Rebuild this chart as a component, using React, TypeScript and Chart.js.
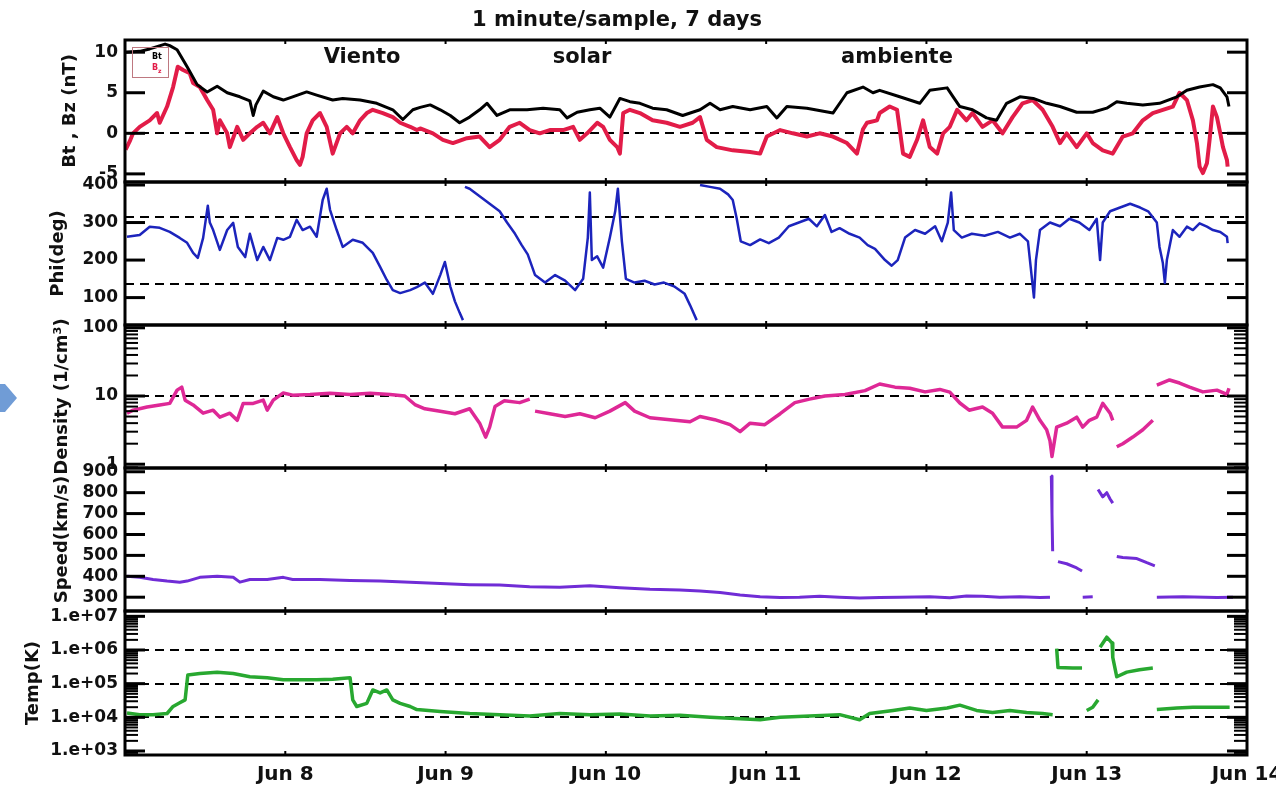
import React, { useEffect, useRef } from 'react';
import { Chart, registerables } from 'chart.js';

Chart.register(...registerables);

type Pair = [number, number | null];

// ---------- labels ----------
const chartTitle = '1 minute/sample, 7 days';
const regionWords = ['Viento', 'solar', 'ambiente'];
const dayLabels = ['', 'Jun 8', 'Jun 9', 'Jun 10', 'Jun 11', 'Jun 12', 'Jun 13', 'Jun 14'];

// ---------- axis ticks / reference levels ----------
const bFieldTicks = [-5, 0, 5, 10];
const phiTicks = [100, 200, 300, 400];
const densityTicks = [1, 10, 100];
const speedTicks = [300, 400, 500, 600, 700, 800, 900];
const tempTicks = [1e3, 1e4, 1e5, 1e6, 1e7];
const tempTickLabels = ['1.e+03', '1.e+04', '1.e+05', '1.e+06', '1.e+07'];

const bFieldRefLines = [0];
const phiRefLines = [135, 315];
const densityRefLines = [10];
const tempRefLines = [1e4, 1e5, 1e6];

// ---------- series: [hours since Jun 7 00:00, value] ----------
const btSeries: Pair[] = [
  [0.1, 10.0], [2.2, 10.1], [3.7, 10.4], [6.0, 11.0], [6.7, 10.8], [7.8, 10.3], [9.3, 8.2], [10.8, 6.0],
  [12.3, 5.1], [13.8, 5.8], [15.3, 5.0], [17.2, 4.5], [18.7, 4.0], [19.2, 2.2], [19.6, 3.5], [20.7, 5.2],
  [22.2, 4.5], [23.7, 4.1], [25.1, 4.5], [27.2, 5.1], [28.7, 4.7], [31.1, 4.1], [32.6, 4.3], [35.2, 4.1],
  [37.7, 3.7], [40.1, 2.9], [41.6, 1.7], [43.1, 2.9], [44.2, 3.2], [45.7, 3.5], [47.2, 2.9], [48.7, 2.2],
  [50.1, 1.3], [51.6, 2.0], [53.1, 2.9], [54.2, 3.7], [55.7, 2.2], [57.6, 2.9], [60.2, 2.9], [62.6, 3.1],
  [65.1, 2.9], [66.2, 1.9], [67.7, 2.6], [69.6, 2.9], [71.1, 3.1], [72.6, 2.0], [74.1, 4.3], [75.6, 3.9],
  [77.1, 3.7], [79.0, 3.1], [81.1, 2.9], [83.5, 2.2], [86.1, 2.9], [87.6, 3.7], [89.1, 2.9], [91.0, 3.3],
  [93.6, 2.9], [96.1, 3.3], [97.6, 1.9], [99.1, 3.3], [102.1, 3.1], [106.0, 2.5], [108.1, 5.0], [110.5, 5.7],
  [112.0, 5.0], [113.0, 5.3], [116.0, 4.5], [119.0, 3.7], [120.5, 5.3], [123.1, 5.6], [124.0, 4.5], [125.0, 3.3],
  [126.9, 2.9], [129.0, 1.9], [130.5, 1.6], [132.0, 3.7], [134.0, 4.5], [136.0, 4.3], [138.0, 3.7], [140.0, 3.3],
  [142.5, 2.6], [144.9, 2.6], [147.0, 3.1], [148.5, 3.9], [150.0, 3.7], [152.4, 3.5], [154.9, 3.7], [157.5, 4.5],
  [159.0, 5.3], [160.9, 5.7], [162.9, 6.0], [164.0, 5.6], [165.0, 4.5], [165.3, 3.3],
];

const bzSeries: Pair[] = [
  [0.1, -2.0], [0.7, -1.0], [1.2, 0.0], [2.2, 0.8], [3.7, 1.6], [4.8, 2.5], [5.2, 1.3], [6.3, 3.3],
  [7.2, 5.7], [7.9, 8.2], [8.7, 7.8], [9.7, 7.4], [10.2, 6.2], [11.2, 5.7], [12.3, 4.1], [13.2, 2.9],
  [13.8, 0.0], [14.2, 1.6], [15.3, 0.0], [15.7, -1.7], [16.8, 0.8], [17.7, -0.8], [18.7, 0.0], [19.8, 0.8],
  [20.7, 1.3], [21.7, 0.0], [22.8, 2.0], [23.7, 0.0], [24.7, -1.7], [25.7, -3.3], [26.2, -3.9], [26.6, -2.9],
  [27.2, 0.0], [28.1, 1.6], [29.2, 2.5], [30.2, 0.8], [31.1, -2.5], [32.2, 0.0], [33.2, 0.8], [34.1, 0.0],
  [35.2, 1.6], [36.2, 2.5], [37.1, 2.9], [38.6, 2.5], [40.1, 2.0], [41.2, 1.3], [42.7, 0.8], [43.7, 0.4],
  [44.2, 0.6], [46.1, 0.0], [47.6, -0.8], [49.1, -1.2], [51.2, -0.6], [53.1, -0.4], [54.6, -1.7], [56.1, -0.8],
  [57.6, 0.8], [59.1, 1.3], [60.6, 0.4], [62.1, 0.0], [63.6, 0.4], [65.6, 0.4], [67.1, 0.8], [68.1, -0.8],
  [69.2, 0.0], [70.7, 1.3], [71.6, 0.8], [72.6, -0.8], [73.7, -1.7], [74.1, -2.5], [74.6, 2.5], [75.6, 2.9],
  [77.1, 2.5], [79.0, 1.6], [81.1, 1.3], [83.1, 0.8], [85.0, 1.3], [86.1, 2.0], [87.1, -0.8], [88.6, -1.7],
  [91.0, -2.1], [93.6, -2.3], [95.1, -2.5], [96.1, -0.4], [98.1, 0.4], [100.0, 0.0], [102.1, -0.4], [104.0, 0.0],
  [106.0, -0.4], [108.1, -1.2], [109.6, -2.5], [110.5, 0.5], [111.1, 1.3], [112.6, 1.6], [113.0, 2.5], [114.5, 3.3],
  [115.6, 2.9], [116.5, -2.5], [117.5, -2.9], [118.6, -0.8], [119.5, 1.6], [120.5, -1.7], [121.6, -2.5], [122.5, 0.0],
  [123.5, 0.8], [124.6, 2.9], [126.0, 1.6], [126.9, 2.5], [128.4, 0.8], [129.9, 1.6], [131.4, 0.0], [132.9, 2.0],
  [134.4, 3.7], [135.9, 4.1], [137.4, 2.9], [138.9, 0.8], [140.0, -1.2], [141.0, 0.0], [142.5, -1.7], [144.0, 0.0],
  [144.9, -1.2], [146.4, -2.1], [147.9, -2.5], [149.4, -0.4], [150.9, 0.0], [152.4, 1.6], [153.9, 2.5], [155.4, 2.9],
  [156.9, 3.3], [157.9, 5.0], [159.0, 4.1], [159.9, 1.6], [160.5, -1.2], [160.9, -4.1], [161.4, -4.9], [162.0, -3.7],
  [162.4, -0.8], [162.9, 3.3], [163.5, 2.0], [164.0, 0.0], [164.4, -1.7], [165.0, -3.3], [165.1, -4.1],
];

const phiSeries: Pair[] = [
  [0.3, 262], [2.2, 267], [3.7, 289], [5.2, 286], [6.7, 275], [8.2, 259], [9.3, 246], [10.2, 219],
  [10.9, 206], [11.7, 259], [12.4, 345], [12.7, 300], [13.2, 280], [14.2, 227], [15.3, 280], [16.2, 299],
  [16.9, 235], [18.0, 208], [18.7, 270], [19.8, 200], [20.7, 235], [21.7, 200], [22.8, 259], [23.7, 254],
  [24.7, 262], [25.7, 307], [26.6, 280], [27.7, 289], [28.7, 262], [29.6, 360], [30.2, 390], [30.7, 334],
  [31.7, 280], [32.6, 235], [34.1, 254], [35.6, 246], [37.1, 219], [38.2, 182], [39.2, 147], [40.1, 120],
  [41.2, 112], [42.7, 120], [43.7, 128], [44.9, 140], [46.1, 110], [47.2, 160], [47.9, 195], [48.7, 130],
  [49.4, 90], [50.1, 60], [50.6, 40], [50.7, null], [50.9, 395], [51.6, 390], [53.1, 370], [54.6, 350],
  [56.1, 330], [57.2, 300], [58.4, 270], [59.4, 240], [60.3, 215], [61.4, 160], [62.9, 140], [64.4, 160],
  [65.9, 145], [67.4, 120], [68.6, 150], [69.3, 260], [69.6, 380], [69.9, 200], [70.7, 210], [71.6, 180],
  [72.6, 260], [73.4, 330], [73.8, 390], [74.4, 250], [75.0, 150], [76.3, 140], [77.8, 145], [79.3, 135],
  [80.7, 140], [82.2, 130], [83.8, 110], [84.6, 80], [85.6, 40], [85.8, null], [86.1, 400], [87.6, 395],
  [89.1, 390], [90.3, 375], [91.0, 360], [91.6, 310], [92.2, 250], [93.6, 240], [95.1, 255], [96.4, 245],
  [97.9, 260], [99.4, 290], [100.9, 300], [102.4, 310], [103.6, 290], [104.8, 320], [105.8, 275], [107.0, 285],
  [108.5, 270], [110.0, 260], [111.2, 240], [112.3, 230], [113.8, 200], [114.8, 185], [115.7, 200], [116.8, 260],
  [118.3, 280], [119.8, 270], [121.3, 290], [122.3, 250], [123.2, 300], [123.7, 380], [124.1, 280], [125.3, 260],
  [126.8, 270], [128.7, 265], [130.7, 275], [132.5, 260], [134.0, 270], [135.2, 250], [135.8, 150], [136.1, 100],
  [136.4, 200], [137.0, 280], [138.5, 300], [140.0, 290], [141.4, 310], [142.9, 300], [144.4, 280], [145.5, 310],
  [146.0, 200], [146.4, 300], [147.5, 330], [149.0, 340], [150.5, 350], [152.0, 340], [153.2, 330], [154.5, 300],
  [154.9, 235], [155.4, 192], [155.7, 139], [156.0, 200], [156.9, 280], [157.9, 262], [159.0, 289], [159.9, 280],
  [160.9, 298], [162.0, 289], [162.9, 280], [164.0, 275], [165.0, 262], [165.1, 245],
];

const densitySeries: Pair[] = [
  [0.3, 5.6], [1.2, 6.2], [3.3, 6.9], [5.2, 7.4], [6.7, 7.8], [7.8, 12.2], [8.5, 13.5], [9.0, 8.7],
  [10.2, 7.4], [11.7, 5.6], [13.2, 6.2], [14.2, 4.9], [15.7, 5.6], [16.8, 4.4], [17.7, 7.8], [19.2, 7.8],
  [20.7, 8.7], [21.3, 6.2], [22.2, 8.7], [23.7, 11.1], [25.1, 10.3], [27.7, 10.5], [30.7, 11], [33.7, 10.5],
  [36.7, 11], [39.7, 10.5], [41.9, 10], [43.4, 7.5], [44.9, 6.5], [47.2, 6], [49.4, 5.5], [51.6, 6.5],
  [53.1, 4], [54.0, 2.5], [54.6, 3.5], [55.4, 7], [56.8, 8.5], [59.1, 8], [60.6, 9], [61.0, null],
  [61.4, 6], [63.6, 5.5], [65.9, 5], [68.1, 5.5], [70.4, 4.8], [72.6, 6], [74.9, 8], [76.3, 6],
  [78.6, 4.8], [81.6, 4.5], [84.6, 4.2], [86.1, 5], [88.3, 4.5], [90.6, 3.8], [92.1, 3], [93.6, 4],
  [95.8, 3.8], [98.1, 5.5], [100.3, 8], [102.5, 9], [104.8, 10], [107.8, 10.5], [110.8, 12], [113.0, 15],
  [115.3, 13.5], [117.5, 13], [119.8, 11.5], [122.0, 12.5], [123.5, 11.4], [125.0, 7.9], [126.4, 6.2], [128.4, 6.9],
  [129.9, 5.6], [131.4, 3.5], [133.5, 3.5], [135.0, 4.4], [135.9, 6.9], [137.0, 4.4], [138.0, 3.2], [138.5, 2.2],
  [138.8, 1.3], [139.5, 3.5], [141.0, 4.0], [142.5, 4.9], [143.4, 3.5], [144.4, 4.4], [145.5, 4.9], [146.4, 7.8],
  [147.5, 5.6], [147.9, 4.4], [148.2, null], [148.5, 1.8], [149.4, 2.0], [150.9, 2.5], [152.4, 3.2], [153.9, 4.4],
  [154.2, null], [154.5, 14.5], [156.4, 17.2], [157.9, 15.5], [159.4, 13.5], [161.4, 11.5], [163.5, 12.2], [165.0, 10.6],
  [165.3, 13],
];

const speedSeries: Pair[] = [
  [0.3, 400], [2.2, 395], [4.2, 385], [6.3, 377], [8.2, 372], [9.3, 377], [11.2, 395], [13.8, 400],
  [16.2, 395], [17.2, 372], [18.7, 385], [21.3, 385], [23.7, 395], [25.1, 385], [29.2, 385], [33.7, 380],
  [38.2, 378], [42.7, 372], [47.2, 365], [51.6, 360], [56.1, 358], [60.6, 350], [65.1, 348], [69.6, 355],
  [74.1, 345], [78.6, 338], [83.1, 335], [86.1, 330], [89.1, 322], [92.1, 310], [95.1, 302], [98.1, 298],
  [101.0, 300], [104.0, 305], [107.0, 300], [110.0, 296], [113.0, 298], [116.0, 300], [120.5, 302], [123.5, 297],
  [126.0, 306], [128.4, 305], [131.0, 300], [134.0, 302], [137.0, 298], [138.5, 300], [138.6, null], [138.7, 880],
  [138.8, 700], [138.9, 520], [139.0, null], [139.7, 470], [141.0, 460], [142.5, 440], [143.3, 425], [143.35, null],
  [143.4, 300], [144.9, 302], [145.2, null], [145.7, 815], [146.4, 780], [147.0, 800], [147.5, 770], [147.9, 750],
  [148.2, null], [148.5, 495], [149.4, 490], [151.5, 485], [153.0, 465], [154.2, 450], [154.3, null], [154.5, 300],
  [158.4, 302], [163.5, 298], [165.9, 300],
];

const tempSeries: Pair[] = [
  [0.3, 1.35e4], [2.2, 1.2e4], [4.2, 1.2e4], [6.3, 1.3e4], [7.2, 2.1e4], [8.2, 2.7e4], [9.0, 3.3e4], [9.4, 1.8e5],
  [11.2, 2.0e5], [13.8, 2.2e5], [16.2, 2.0e5], [18.7, 1.6e5], [21.3, 1.5e5], [23.7, 1.3e5], [26.2, 1.3e5], [28.7, 1.3e5],
  [31.1, 1.35e5], [33.7, 1.5e5], [34.1, 3.3e4], [34.7, 2.1e4], [36.2, 2.6e4], [37.1, 6.5e4], [38.2, 5.3e4], [39.2, 6.5e4],
  [40.1, 3.3e4], [41.2, 2.6e4], [42.7, 2.1e4], [43.7, 1.7e4], [47.2, 1.5e4], [51.6, 1.3e4], [56.1, 1.2e4], [60.6, 1.1e4],
  [65.1, 1.3e4], [69.6, 1.2e4], [74.1, 1.25e4], [78.6, 1.1e4], [83.1, 1.15e4], [87.6, 1.0e4], [92.1, 0.9e4], [95.1, 0.85e4],
  [98.1, 1.0e4], [102.5, 1.1e4], [107.0, 1.2e4], [110.0, 0.85e4], [111.5, 1.3e4], [115.0, 1.6e4], [117.5, 1.9e4], [120.0, 1.6e4],
  [123.1, 1.9e4], [125.0, 2.3e4], [127.5, 1.6e4], [129.9, 1.4e4], [132.5, 1.6e4], [135.0, 1.4e4], [137.4, 1.3e4], [138.9, 1.2e4],
  [139.2, null], [139.5, 1.1e6], [139.7, 3.0e5], [141.9, 2.9e5], [143.3, 2.9e5], [143.6, null], [144.0, 1.6e4], [144.9, 2.0e4],
  [145.7, 3.3e4], [145.8, null], [146.0, 1.2e6], [147.0, 2.4e6], [147.8, 1.6e6], [147.9, 6e5], [148.5, 1.6e5], [150.0, 2.2e5],
  [151.9, 2.6e5], [153.9, 2.9e5], [154.2, null], [154.5, 1.7e4], [157.5, 1.9e4], [159.9, 2.0e4], [162.4, 2.0e4], [165.4, 2.0e4],
];

// ---------- layout & style ----------
const FONT = '"DejaVu Sans", "Liberation Sans", sans-serif';
const INK = '#111';
const PAGE_W = 1276;
const PAGE_H = 785;
const PLOT_LEFT = 125;
const PLOT_RIGHT = 1247;
const HOURS_SPAN = 168;
const X_AXIS_H = 30;
const TITLE_LINE = 18 * 1.2;

const BT_COLOR = '#000';
const BZ_COLOR = 'rgb(226, 28, 72)';
const PHI_COLOR = 'rgb(28, 36, 188)';
const DENSITY_COLOR = 'rgb(222, 40, 150)';
const SPEED_COLOR = 'rgb(112, 44, 214)';
const TEMP_COLOR = 'rgb(40, 168, 48)';

interface SeriesSpec { series: Pair[]; color: string; width: number; }
interface PanelSpec {
  key: string;
  canvasTop: number;
  canvasHeight: number;
  areaTop: number;
  areaBottom: number;
  log: boolean;
  yMin: number;
  yMax: number;
  ticks: number[];
  tickLabels?: string[];
  refLines: number[];
  title: string;
  titleX: number;
  showX: boolean;
  datasets: SeriesSpec[];
  extra?: (ctx: CanvasRenderingContext2D, chart: any, spec: PanelSpec) => void;
}

function drawHeader(ctx: CanvasRenderingContext2D, _chart: any, spec: PanelSpec) {
  const off = spec.canvasTop;
  ctx.fillStyle = INK;
  ctx.font = `bold 21px ${FONT}`;
  ctx.textAlign = 'center';
  ctx.textBaseline = 'middle';
  ctx.fillText(chartTitle, 617, 21 - off);
  const wordX = [362, 582, 897];
  regionWords.forEach((w, i) => ctx.fillText(w, wordX[i], 58 - off));

  // small legend box
  ctx.lineWidth = 1;
  ctx.strokeStyle = 'rgb(190, 120, 128)';
  ctx.strokeRect(132.5, 47.5 - off, 36, 30);
  ctx.textAlign = 'left';
  ctx.font = `bold 8px ${FONT}`;
  ctx.fillStyle = '#000';
  ctx.fillText('Bt', 152, 57 - off);
  ctx.fillStyle = BZ_COLOR;
  ctx.fillText('B', 152, 68 - off);
  ctx.font = `bold 6px ${FONT}`;
  ctx.fillText('z', 158, 71 - off);
}

function drawSideMarker(ctx: CanvasRenderingContext2D, _chart: any, spec: PanelSpec) {
  const off = spec.canvasTop;
  ctx.fillStyle = 'rgb(112, 156, 214)';
  ctx.beginPath();
  ctx.moveTo(0, 384 - off);
  ctx.lineTo(5, 384 - off);
  ctx.lineTo(17, 398 - off);
  ctx.lineTo(5, 412 - off);
  ctx.lineTo(0, 412 - off);
  ctx.closePath();
  ctx.fill();
}

const panels: PanelSpec[] = [
  {
    key: 'b', canvasTop: 0, canvasHeight: 202, areaTop: 40, areaBottom: 182,
    log: false, yMin: -6, yMax: 11.5, ticks: bFieldTicks, refLines: bFieldRefLines,
    title: 'Bt , Bz (nT)', titleX: 70, showX: false,
    datasets: [
      { series: btSeries, color: BT_COLOR, width: 3 },
      { series: bzSeries, color: BZ_COLOR, width: 4 },
    ],
    extra: drawHeader,
  },
  {
    key: 'phi', canvasTop: 162, canvasHeight: 183, areaTop: 182, areaBottom: 325,
    log: false, yMin: 27, yMax: 408, ticks: phiTicks, refLines: phiRefLines,
    title: 'Phi(deg)', titleX: 58, showX: false,
    datasets: [{ series: phiSeries, color: PHI_COLOR, width: 2.5 }],
  },
  {
    key: 'density', canvasTop: 305, canvasHeight: 183, areaTop: 325, areaBottom: 468,
    log: true, yMin: 0.88, yMax: 110, ticks: densityTicks, refLines: densityRefLines,
    title: 'Density (1/cm\u00B3)', titleX: 62, showX: false,
    datasets: [{ series: densitySeries, color: DENSITY_COLOR, width: 3.5 }],
    extra: drawSideMarker,
  },
  {
    key: 'speed', canvasTop: 448, canvasHeight: 183, areaTop: 468, areaBottom: 611,
    log: false, yMin: 234, yMax: 918, ticks: speedTicks, refLines: [],
    title: 'Speed(km/s)', titleX: 62, showX: false,
    datasets: [{ series: speedSeries, color: SPEED_COLOR, width: 3 }],
  },
  {
    key: 'temp', canvasTop: 591, canvasHeight: 194, areaTop: 611, areaBottom: 755,
    log: true, yMin: 760, yMax: 1.44e7, ticks: tempTicks, tickLabels: tempTickLabels, refLines: tempRefLines,
    title: 'Temp(K)', titleX: 33, showX: true,
    datasets: [{ series: tempSeries, color: TEMP_COLOR, width: 3.5 }],
  },
];

function makeDecor(spec: PanelSpec) {
  const hline = (ctx: CanvasRenderingContext2D, x0: number, x1: number, y: number) => {
    ctx.beginPath();
    ctx.moveTo(x0, y);
    ctx.lineTo(x1, y);
    ctx.stroke();
  };
  return {
    id: 'panelDecor_' + spec.key,
    beforeDatasetsDraw(chart: any) {
      const { ctx, chartArea: a } = chart;
      const ys = chart.scales.y;
      ctx.save();
      ctx.strokeStyle = '#000';
      ctx.lineWidth = 2;
      ctx.setLineDash([9, 6]);
      for (const v of spec.refLines) {
        hline(ctx, a.left, a.right, Math.round(ys.getPixelForValue(v)));
      }
      ctx.restore();
    },
    afterDatasetsDraw(chart: any) {
      const { ctx, chartArea: a } = chart;
      const ys = chart.scales.y;
      const xs = chart.scales.x;
      ctx.save();
      ctx.strokeStyle = '#000';
      ctx.setLineDash([]);

      // major ticks, inward on both sides
      ctx.lineWidth = 3;
      for (const v of spec.ticks) {
        const py = ys.getPixelForValue(v);
        hline(ctx, a.left, a.left + 20, py);
        hline(ctx, a.right - 20, a.right, py);
      }
      // minor decade ticks on log axes
      if (spec.log) {
        ctx.lineWidth = 2;
        const lo = Math.floor(Math.log10(spec.yMin));
        const hi = Math.ceil(Math.log10(spec.yMax));
        for (let d = lo; d < hi; d++) {
          for (let m = 2; m <= 9; m++) {
            const v = m * Math.pow(10, d);
            if (v < spec.yMin || v > spec.yMax) continue;
            const py = ys.getPixelForValue(v);
            hline(ctx, a.left, a.left + 13, py);
            hline(ctx, a.right - 13, a.right, py);
          }
        }
      }
      // small day ticks on top and bottom edges
      ctx.lineWidth = 2;
      for (let i = 1; i < dayLabels.length - 1; i++) {
        const px = xs.getPixelForValue(i * 24);
        ctx.beginPath();
        ctx.moveTo(px, a.top);
        ctx.lineTo(px, a.top + 4);
        ctx.moveTo(px, a.bottom - 4);
        ctx.lineTo(px, a.bottom);
        ctx.stroke();
      }
      // frame
      ctx.lineWidth = 3;
      ctx.strokeRect(a.left, a.top, a.right - a.left, a.bottom - a.top);

      if (spec.extra) spec.extra(ctx, chart, spec);
      ctx.restore();
    },
  };
}

function buildConfig(spec: PanelSpec): any {
  const canvasBottom = spec.canvasTop + spec.canvasHeight;
  return {
    type: 'line',
    data: {
      datasets: spec.datasets.map((d) => ({
        data: d.series.map(([x, y]) => ({ x, y })),
        borderColor: d.color,
        backgroundColor: d.color,
        borderWidth: d.width,
        borderJoinStyle: 'round',
        pointRadius: 0,
        tension: 0,
        fill: false,
        spanGaps: false,
        clip: 0,
      })),
    },
    options: {
      animation: false,
      responsive: false,
      devicePixelRatio: 1,
      events: [],
      layout: {
        padding: {
          left: 0,
          right: PAGE_W - PLOT_RIGHT,
          top: spec.areaTop - spec.canvasTop,
          bottom: canvasBottom - spec.areaBottom - (spec.showX ? X_AXIS_H : 0),
        },
      },
      plugins: { legend: { display: false }, tooltip: { enabled: false }, title: { display: false } },
      scales: {
        x: {
          type: 'linear',
          min: 0,
          max: HOURS_SPAN,
          display: spec.showX,
          grid: { display: false, drawTicks: false },
          border: { display: false },
          ticks: {
            stepSize: 24,
            autoSkip: false,
            maxRotation: 0,
            padding: 8,
            color: INK,
            font: { family: FONT, size: 20, weight: 'bold' },
            callback: (v: number) => dayLabels[Math.round(v / 24)] ?? '',
          },
          afterFit: (s: any) => {
            s.height = spec.showX ? X_AXIS_H : 0;
            s.paddingLeft = 0;
            s.paddingRight = 0;
          },
        },
        y: {
          type: spec.log ? 'logarithmic' : 'linear',
          position: 'left',
          min: spec.yMin,
          max: spec.yMax,
          grid: { display: false, drawTicks: false },
          border: { display: false },
          ticks: {
            autoSkip: false,
            padding: 7,
            color: INK,
            font: { family: FONT, size: 17, weight: 'bold' },
            callback: (v: number, i: number) => (spec.tickLabels ? spec.tickLabels[i] : String(v)),
          },
          afterBuildTicks: (s: any) => {
            s.ticks = spec.ticks.map((value) => ({ value }));
          },
          afterFit: (s: any) => {
            s.width = PLOT_LEFT;
            s.paddingTop = 0;
            s.paddingBottom = 0;
          },
          title: {
            display: true,
            text: spec.title,
            color: INK,
            font: { family: FONT, size: 18, weight: 'bold' },
            padding: { top: spec.titleX - TITLE_LINE / 2, bottom: 0 },
          },
        },
      },
    },
    plugins: [makeDecor(spec)],
  };
}

function PanelCanvas({ spec }: { spec: PanelSpec }) {
  const ref = useRef<HTMLCanvasElement>(null);
  useEffect(() => {
    if (!ref.current) return;
    const chart = new Chart(ref.current, buildConfig(spec));
    return () => chart.destroy();
  }, [spec]);
  return (
    <canvas
      ref={ref}
      width={PAGE_W}
      height={spec.canvasHeight}
      style={{ position: 'absolute', left: 0, top: spec.canvasTop, width: PAGE_W, height: spec.canvasHeight }}
    />
  );
}

export default function App() {
  return (
    <div
      style={{
        position: 'fixed',
        left: 0,
        top: 0,
        width: PAGE_W,
        height: PAGE_H,
        background: '#fff',
        overflow: 'hidden',
      }}
    >
      {panels.map((p) => (
        <PanelCanvas key={p.key} spec={p} />
      ))}
    </div>
  );
}
